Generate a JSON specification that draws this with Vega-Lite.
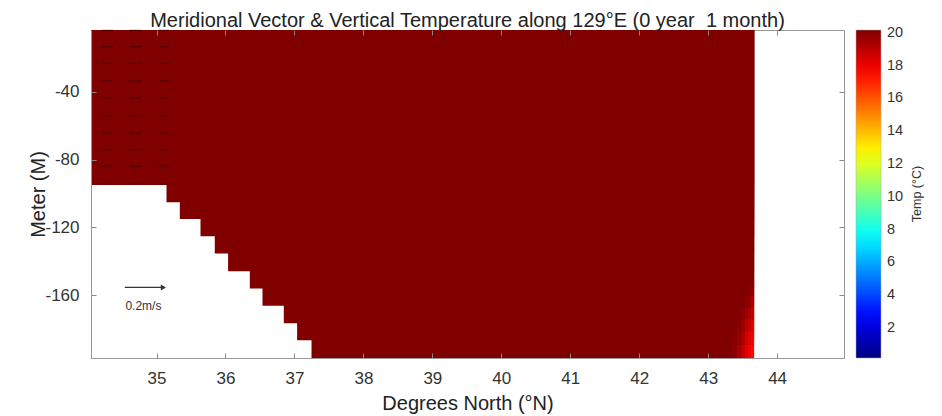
{
  "$schema": "https://vega.github.io/schema/vega-lite/v6.json",
  "autosize": "none",
  "width": 753,
  "height": 328,
  "padding": {"left": 91, "top": 30, "right": 98, "bottom": 58},
  "background": "white",
  "title": {
    "text": "Meridional Vector & Vertical Temperature along 129°E (0 year\u00a0 1 month)",
    "font": "Liberation Sans",
    "fontSize": 20,
    "fontWeight": "normal",
    "color": "#222",
    "anchor": "middle",
    "baseline": "alphabetic",
    "offset": 6,
    "dy": 23
  },
  "config": {
    "view": {"stroke": "#999", "strokeWidth": 1},
    "font": "Liberation Sans",
    "axis": {"grid": false}
  },
  "datasets": {
    "cells": [
      {"lat1": 34.05, "lat2": 43.666, "top": -3.8, "bot": -95.0, "temp": 20.18},
      {"lat1": 35.145, "lat2": 43.666, "top": -3.8, "bot": -105.2, "temp": 20.18},
      {"lat1": 35.338, "lat2": 43.666, "top": -3.8, "bot": -115.0, "temp": 20.18},
      {"lat1": 35.638, "lat2": 43.666, "top": -3.8, "bot": -125.2, "temp": 20.18},
      {"lat1": 35.845, "lat2": 43.666, "top": -3.8, "bot": -135.3, "temp": 20.18},
      {"lat1": 36.038, "lat2": 43.666, "top": -3.8, "bot": -145.7, "temp": 20.18},
      {"lat1": 36.353, "lat2": 43.666, "top": -3.8, "bot": -155.9, "temp": 20.18},
      {"lat1": 36.537, "lat2": 43.666, "top": -3.8, "bot": -166.0, "temp": 20.18},
      {"lat1": 36.846, "lat2": 43.666, "top": -3.8, "bot": -176.3, "temp": 20.18},
      {"lat1": 37.039, "lat2": 43.666, "top": -3.8, "bot": -186.4, "temp": 20.18},
      {"lat1": 37.248, "lat2": 43.666, "top": -3.8, "bot": -196.8, "temp": 20.18}
    ],
    "grad": [
      {"lat1": 43.35, "lat2": 43.42, "top": -152, "bot": -160, "temp": 20.18},
      {"lat1": 43.42, "lat2": 43.48, "top": -152, "bot": -160, "temp": 20.18},
      {"lat1": 43.48, "lat2": 43.53, "top": -152, "bot": -160, "temp": 20.18},
      {"lat1": 43.53, "lat2": 43.58, "top": -152, "bot": -160, "temp": 20.15},
      {"lat1": 43.58, "lat2": 43.62, "top": -152, "bot": -160, "temp": 20.05},
      {"lat1": 43.62, "lat2": 43.666, "top": -152, "bot": -160, "temp": 19.9},
      {"lat1": 43.35, "lat2": 43.42, "top": -160, "bot": -167, "temp": 20.18},
      {"lat1": 43.42, "lat2": 43.48, "top": -160, "bot": -167, "temp": 20.18},
      {"lat1": 43.48, "lat2": 43.53, "top": -160, "bot": -167, "temp": 20.1},
      {"lat1": 43.53, "lat2": 43.58, "top": -160, "bot": -167, "temp": 19.95},
      {"lat1": 43.58, "lat2": 43.62, "top": -160, "bot": -167, "temp": 19.7},
      {"lat1": 43.62, "lat2": 43.666, "top": -160, "bot": -167, "temp": 19.4},
      {"lat1": 43.35, "lat2": 43.42, "top": -167, "bot": -174, "temp": 20.18},
      {"lat1": 43.42, "lat2": 43.48, "top": -167, "bot": -174, "temp": 20.1},
      {"lat1": 43.48, "lat2": 43.53, "top": -167, "bot": -174, "temp": 19.9},
      {"lat1": 43.53, "lat2": 43.58, "top": -167, "bot": -174, "temp": 19.6},
      {"lat1": 43.58, "lat2": 43.62, "top": -167, "bot": -174, "temp": 19.2},
      {"lat1": 43.62, "lat2": 43.666, "top": -167, "bot": -174, "temp": 18.9},
      {"lat1": 43.35, "lat2": 43.42, "top": -174, "bot": -181, "temp": 20.15},
      {"lat1": 43.42, "lat2": 43.48, "top": -174, "bot": -181, "temp": 19.95},
      {"lat1": 43.48, "lat2": 43.53, "top": -174, "bot": -181, "temp": 19.6},
      {"lat1": 43.53, "lat2": 43.58, "top": -174, "bot": -181, "temp": 19.1},
      {"lat1": 43.58, "lat2": 43.62, "top": -174, "bot": -181, "temp": 18.6},
      {"lat1": 43.62, "lat2": 43.666, "top": -174, "bot": -181, "temp": 18.3},
      {"lat1": 43.35, "lat2": 43.42, "top": -181, "bot": -189, "temp": 20.05},
      {"lat1": 43.42, "lat2": 43.48, "top": -181, "bot": -189, "temp": 19.7},
      {"lat1": 43.48, "lat2": 43.53, "top": -181, "bot": -189, "temp": 19.2},
      {"lat1": 43.53, "lat2": 43.58, "top": -181, "bot": -189, "temp": 18.6},
      {"lat1": 43.58, "lat2": 43.62, "top": -181, "bot": -189, "temp": 18.0},
      {"lat1": 43.62, "lat2": 43.666, "top": -181, "bot": -189, "temp": 17.8},
      {"lat1": 43.35, "lat2": 43.42, "top": -189, "bot": -196.8, "temp": 19.9},
      {"lat1": 43.42, "lat2": 43.48, "top": -189, "bot": -196.8, "temp": 19.4},
      {"lat1": 43.48, "lat2": 43.53, "top": -189, "bot": -196.8, "temp": 18.8},
      {"lat1": 43.53, "lat2": 43.58, "top": -189, "bot": -196.8, "temp": 18.2},
      {"lat1": 43.58, "lat2": 43.62, "top": -189, "bot": -196.8, "temp": 17.7},
      {"lat1": 43.62, "lat2": 43.666, "top": -189, "bot": -196.8, "temp": 17.5}
    ],
    "arrows": [
      {"lon1": 34.2, "lon2": 34.38, "depth": -4.0},
      {"lon1": 34.6, "lon2": 34.78, "depth": -4.0},
      {"lon1": 35.02, "lon2": 35.18, "depth": -4.0},
      {"lon1": 34.2, "lon2": 34.38, "depth": -13.6},
      {"lon1": 34.6, "lon2": 34.78, "depth": -13.6},
      {"lon1": 35.02, "lon2": 35.18, "depth": -13.6},
      {"lon1": 34.2, "lon2": 34.38, "depth": -23.4},
      {"lon1": 34.6, "lon2": 34.78, "depth": -23.4},
      {"lon1": 35.02, "lon2": 35.18, "depth": -23.4},
      {"lon1": 34.2, "lon2": 34.38, "depth": -33.7},
      {"lon1": 34.6, "lon2": 34.78, "depth": -33.7},
      {"lon1": 35.02, "lon2": 35.18, "depth": -33.7},
      {"lon1": 34.2, "lon2": 34.38, "depth": -43.9},
      {"lon1": 34.6, "lon2": 34.78, "depth": -43.9},
      {"lon1": 35.02, "lon2": 35.18, "depth": -43.9},
      {"lon1": 34.2, "lon2": 34.38, "depth": -54.3},
      {"lon1": 34.6, "lon2": 34.78, "depth": -54.3},
      {"lon1": 35.02, "lon2": 35.18, "depth": -54.3},
      {"lon1": 34.2, "lon2": 34.38, "depth": -64.3},
      {"lon1": 34.6, "lon2": 34.78, "depth": -64.3},
      {"lon1": 35.02, "lon2": 35.18, "depth": -64.3},
      {"lon1": 34.2, "lon2": 34.38, "depth": -74.3},
      {"lon1": 34.6, "lon2": 34.78, "depth": -74.3},
      {"lon1": 35.02, "lon2": 35.18, "depth": -74.3},
      {"lon1": 34.2, "lon2": 34.38, "depth": -84.1},
      {"lon1": 34.6, "lon2": 34.78, "depth": -84.1},
      {"lon1": 35.02, "lon2": 35.18, "depth": -84.1},
      {"lon1": 34.2, "lon2": 34.38, "depth": -94.2},
      {"lon1": 34.6, "lon2": 34.78, "depth": -94.2},
      {"lon1": 35.02, "lon2": 35.18, "depth": -94.2}
    ],
    "ref": [
      {"lon1": 34.54, "lon2": 35.08, "head": 35.1, "depth": -155.3, "labLon": 34.81, "labDepth": -166.2, "label": "0.2m/s"}
    ]
  },
  "resolve": {"axis": {"x": "independent", "y": "independent"}},
  "layer": [
    {
      "data": {"name": "cells"},
      "mark": {"type": "rect", "strokeWidth": 0},
      "encoding": {
        "x": {
          "field": "lat1", "type": "quantitative",
          "scale": {"domain": [34.05, 44.97], "nice": false, "zero": false},
          "axis": {
            "orient": "bottom",
            "values": [35, 36, 37, 38, 39, 40, 41, 42, 43, 44],
            "format": "d",
            "labelFontSize": 17,
            "labelColor": "#333",
            "labelPadding": 17,
            "tickSize": -5,
            "tickColor": "#888",
            "domainColor": "#999",
            "title": "Degrees North (°N)",
            "titleFontSize": 20,
            "titleFontWeight": "normal",
            "titleColor": "#222",
            "titleY": 45,
            "titleBaseline": "middle",
            "zindex": 1
          }
        },
        "x2": {"field": "lat2"},
        "y": {
          "field": "top", "type": "quantitative",
          "scale": {"domain": [-196.8, -3.8], "nice": false, "zero": false},
          "axis": {
            "orient": "left",
            "values": [-40, -80, -120, -160],
            "labelExpr": "'' + datum.value",
            "labelFontSize": 17,
            "labelColor": "#333",
            "labelPadding": 17,
            "tickSize": -5,
            "tickColor": "#888",
            "domainColor": "#999",
            "title": "Meter (M)",
            "titleFontSize": 20,
            "titleFontWeight": "normal",
            "titleColor": "#222",
            "titleX": -53,
            "titleY": 164,
            "titleAlign": "center",
            "titleBaseline": "middle",
            "zindex": 1
          }
        },
        "y2": {"field": "bot"},
        "color": {
          "field": "temp", "type": "quantitative",
          "scale": {
            "type": "linear",
            "domain": [0.16, 2.66, 7.665, 12.67, 17.675, 20.18],
            "range": ["#000080", "#0000ff", "#00ffff", "#ffff00", "#ff0000", "#800000"],
            "interpolate": "rgb"
          },
          "legend": {
            "type": "gradient",
            "orient": "none",
            "legendX": 765,
            "legendY": 0,
            "direction": "vertical",
            "gradientLength": 328,
            "gradientThickness": 25,
            "gradientStrokeColor": "#aaa",
            "gradientStrokeWidth": 0.5,
            "padding": 0,
            "values": [2, 4, 6, 8, 10, 12, 14, 16, 18, 20],
            "labelOverlap": false,
            "labelFontSize": 14.5,
            "labelColor": "#333",
            "labelOffset": 6,
            "title": "Temp (°C)",
            "titleOrient": "right",
            "titleAnchor": "middle",
            "titleFontSize": 12.5,
            "titleFontWeight": "normal",
            "titleColor": "#333",
            "titleBaseline": "top",
            "titlePadding": 8,
            "encode": {"title": {"update": {"angle": {"value": -90}}}}
          }
        }
      }
    },
    {
      "data": {"name": "grad"},
      "mark": {"type": "rect", "strokeWidth": 0},
      "encoding": {
        "x": {"field": "lat1", "type": "quantitative", "axis": null},
        "x2": {"field": "lat2"},
        "y": {"field": "top", "type": "quantitative", "axis": null},
        "y2": {"field": "bot"},
        "color": {"field": "temp", "type": "quantitative"}
      }
    },
    {
      "data": {"name": "arrows"},
      "mark": {"type": "rule", "color": "#200000", "strokeWidth": 1.3, "opacity": 0.45},
      "encoding": {
        "x": {
          "field": "lon1", "type": "quantitative",
          "axis": {
            "orient": "top", "labels": false, "title": null, "domain": false,
            "values": [35, 36, 37, 38, 39, 40, 41, 42, 43, 44],
            "tickSize": -5, "tickColor": "#888", "zindex": 1,
            "minExtent": 0, "maxExtent": 0
          }
        },
        "x2": {"field": "lon2"},
        "y": {
          "field": "depth", "type": "quantitative",
          "axis": {
            "orient": "right", "labels": false, "title": null, "domain": false,
            "values": [-40, -80, -120, -160],
            "tickSize": -5, "tickColor": "#888", "zindex": 1,
            "minExtent": 0, "maxExtent": 0
          }
        }
      }
    },
    {
      "data": {"name": "ref"},
      "mark": {"type": "rule", "color": "#333", "strokeWidth": 1.2},
      "encoding": {
        "x": {"field": "lon1", "type": "quantitative", "axis": null},
        "x2": {"field": "lon2"},
        "y": {"field": "depth", "type": "quantitative", "axis": null}
      }
    },
    {
      "data": {"name": "ref"},
      "mark": {"type": "point", "shape": "triangle-right", "filled": true, "color": "#333", "size": 35, "opacity": 1},
      "encoding": {
        "x": {"field": "head", "type": "quantitative", "axis": null},
        "y": {"field": "depth", "type": "quantitative", "axis": null}
      }
    },
    {
      "data": {"name": "ref"},
      "mark": {"type": "text", "font": "Liberation Sans", "fontSize": 12, "color": "#333", "align": "center", "baseline": "middle"},
      "encoding": {
        "x": {"field": "labLon", "type": "quantitative", "axis": null},
        "y": {"field": "labDepth", "type": "quantitative", "axis": null},
        "text": {"field": "label"}
      }
    }
  ]
}
